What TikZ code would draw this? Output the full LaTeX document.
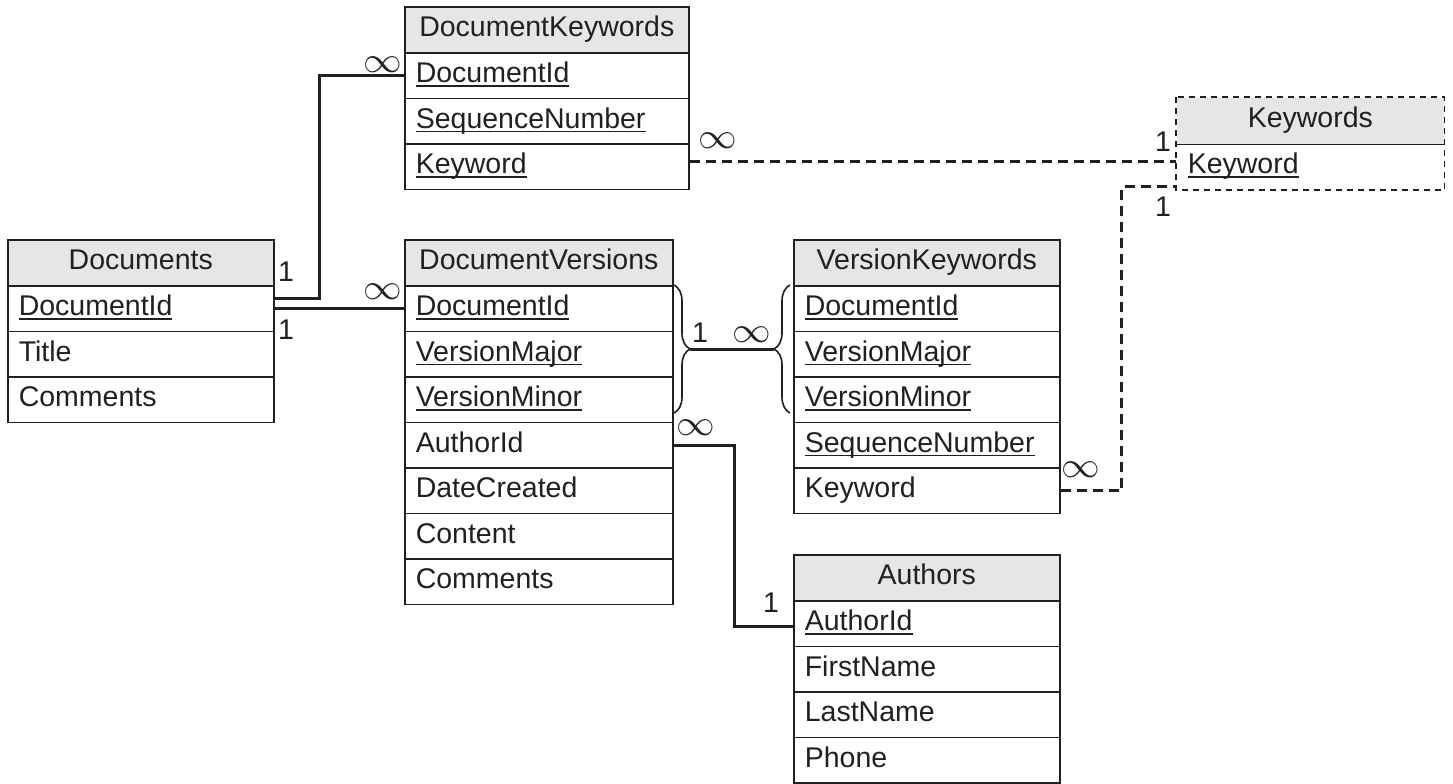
\documentclass[tikz,border=0pt]{standalone}
\usepackage{fontspec}
\setmainfont{Liberation Sans}
\usetikzlibrary{decorations.pathreplacing,calc}
\definecolor{hdrgray}{HTML}{E6E6E6}
\definecolor{ink}{HTML}{231F20}
\newcommand\ukey[1]{\setbox0\hbox{#1}\rlap{\color{ink}\vrule width\wd0 height -2.5pt depth 4pt}\box0}
\newcommand\manyinf{\scalebox{1.55}[1.45]{$\infty$}}
\newcommand\ertable[6]{%
  \pgfmathsetmacro\ertw{#4-22}%
  \node[hdrbox, minimum width=#4pt] (#1-h) at (#2,#3) {#5};
  \foreach \ertxt [count=\eri] in {#6} {
    \pgfmathsetmacro\ery{#3+46+(\eri-1)*45.5}
    \node[fieldbox, text width=\ertw pt] (#1-\eri) at (#2,\ery) {\ertxt};
  }%
}
\begin{document}
\begin{tikzpicture}[x=1pt,y=-1pt,
  every node/.style={font=\fontsize{28.5}{32}\selectfont, text=ink},
  hdrbox/.style={draw=ink, fill=hdrgray, line width=1.6pt, anchor=north west,
    minimum height=46pt, inner sep=0pt, text height=20pt, text depth=6pt},
  fieldbox/.style={draw=ink, line width=1.6pt, anchor=north west,
    minimum height=45.5pt, inner xsep=11pt, inner ysep=0pt,
    text height=20pt, text depth=6pt, align=left},
  conn/.style={draw=ink, line width=3pt},
  dconn/.style={draw=ink, line width=3pt, dash pattern=on 10pt off 6pt},
  card/.style={inner sep=0pt},
  brc/.style={draw=ink, line width=1.6pt, decorate,
    decoration={brace, amplitude=16pt, aspect=0.5}}
]
\useasboundingbox (0,0) rectangle (1453,784);

\ertable{doc}{7}{239}{266}{Documents}{\ukey{DocumentId},Title,Comments}
\ertable{dk}{404}{6}{284}{DocumentKeywords}{\ukey{DocumentId},\ukey{SequenceNumber},\ukey{Keyword}}
\ertable{dv}{404}{239}{268}{DocumentVersions}{\ukey{DocumentId},\ukey{VersionMajor},\ukey{VersionMinor},AuthorId,DateCreated,Content,Comments}
\ertable{vk}{793}{239}{266}{VersionKeywords}{\ukey{DocumentId},\ukey{VersionMajor},\ukey{VersionMinor},\ukey{SequenceNumber},Keyword}
\ertable{au}{793}{554}{266}{Authors}{\ukey{AuthorId},FirstName,LastName,Phone}

% Keywords table (dashed outline)
\node[hdrbox, draw=none, minimum width=267pt] (kw-h) at (1176,97) {Keywords};
\node[fieldbox, draw=none, text width=245pt] (kw-1) at (1176,143) {\ukey{Keyword}};
\draw[ink, line width=1.6pt, dash pattern=on 6pt off 5pt] (kw-h.north west) rectangle (kw-1.south east);
\draw[ink, line width=1.6pt] (kw-h.south west) -- (kw-h.south east);

% Documents -> DocumentKeywords
\draw[conn] ([yshift=10pt]doc-1.east) -- ++(45,0) |- (dk-1.west);
% Documents -> DocumentVersions
\draw[conn] (doc-1.east) -- (dv-1.west);

% braces
\coordinate (bl1) at (674,285);
\coordinate (bl2) at (674,413);
\coordinate (br1) at (790,413);
\coordinate (br2) at (790,285);
\draw[brc] (bl1) -- (bl2);
\draw[brc] (br1) -- (br2);
\coordinate (bltip) at (690,349);
\coordinate (brtip) at (774,349);
\draw[conn] (bltip) -- (brtip);

% DocumentVersions.AuthorId -> Authors.AuthorId
\draw[conn] (dv-4.east) -- ++(61,0) |- ([yshift=-3pt]au-1.west);

% DocumentKeywords.Keyword -> Keywords.Keyword
\coordinate (dkk) at ([yshift=5pt]dk-3.east);
\draw[dconn] (dkk) -- (dkk -| kw-1.west);
% VersionKeywords.Keyword -> Keywords.Keyword
\draw[dconn] (vk-5.east) -- ++(61,0) |- ([yshift=-20pt]kw-1.west);

% cardinality labels
\node[card] (l1) at (286,272) {1};
\node[card] (l2) at (286,330) {1};
\node[card] (l3) at (383,65) {\manyinf};
\node[card] (l4) at (383,292) {\manyinf};
\node[card] (l5) at (700,333) {1};
\node[card] (l6) at (752,335) {\manyinf};
\node[card] (l7) at (696,428) {\manyinf};
\node[card] (l8) at (771,603) {1};
\node[card] (l9) at (718,141) {\manyinf};
\node[card] (l10) at (1163,142) {1};
\node[card] (l11) at (1163,207) {1};
\node[card] (l12) at (1081,470) {\manyinf};
\end{tikzpicture}
\end{document}
